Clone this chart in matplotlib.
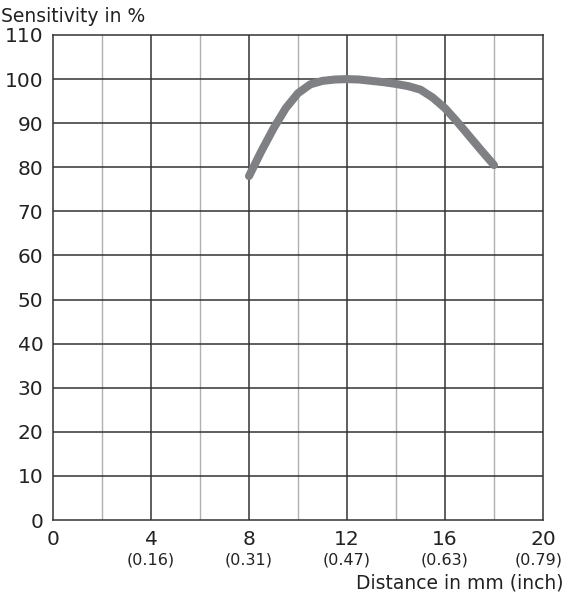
import matplotlib
matplotlib.use("Agg")
import matplotlib.pyplot as plt
import matplotlib.transforms as mtransforms

distance_mm = [8, 8.5, 9, 9.5, 10, 10.5, 11, 11.5, 12, 12.5, 13, 13.5,
               14, 14.5, 15, 15.5, 16, 16.5, 17, 17.5, 18]
sensitivity = [78.0, 83.6, 88.8, 93.4, 96.8, 98.8, 99.6, 99.9, 100.0, 99.9, 99.6, 99.3,
               98.9, 98.4, 97.6, 95.8, 93.4, 90.3, 87.0, 83.7, 80.5]

x_ticks = [0, 4, 8, 12, 16, 20]
x_tick_labels = ["0", "4", "8", "12", "16", "20"]
inch_labels = ["", "(0.16)", "(0.31)", "(0.47)", "(0.63)", "(0.79)"]
y_ticks = list(range(0, 111, 10))
minor_x = [2, 6, 10, 14, 18]

plt.rcParams['font.family'] = ['DejaVu Sans']

fig = plt.figure(figsize=(5.66, 6.0), dpi=100)
ax = fig.add_axes([53/566, 80/600, 490/566, 485/600])
ax.set_xlim(0, 20)
ax.set_ylim(0, 110)

for x in minor_x:
    ax.axvline(x, color='#b0b0b0', lw=1.0, zorder=1)
for x in x_ticks[1:-1]:
    ax.axvline(x, color='#333333', lw=1.1, zorder=1)
for y in y_ticks[1:-1]:
    ax.axhline(y, color='#333333', lw=1.1, zorder=1)
for s in ax.spines.values():
    s.set_color('#333333')
    s.set_linewidth(1.1)

ax.plot(distance_mm, sensitivity, color='#7f8083', lw=5.8,
        solid_capstyle='round', solid_joinstyle='round', zorder=3)

ax.set_xticks(x_ticks)
ax.set_xticklabels(x_tick_labels, fontsize=14.5, color='#222222')
ax.set_yticks(y_ticks)
ax.set_yticklabels([str(v) for v in y_ticks], fontsize=14.5, color='#222222')
ax.tick_params(length=0, pad=7)

trans = mtransforms.blended_transform_factory(ax.transData, ax.transAxes)
for i, (x, lab) in enumerate(zip(x_ticks, inch_labels)):
    if lab:
        t = trans
        if i == len(x_ticks) - 1:
            t = trans + mtransforms.ScaledTranslation(-4/100, 0, fig.dpi_scale_trans)
        ax.text(x, -0.068, lab, transform=t, ha='center', va='top',
                fontsize=11.5, color='#222222')

fig.text(1/566, 1 - 17/600, "Sensitivity in %", fontsize=13.5, color='#222222',
         ha='left', va='center')
fig.text(563/566, 1 - 583/600, "Distance in mm (inch)", fontsize=13.5, color='#222222',
         ha='right', va='center')

fig.savefig("out.png", dpi=100)
